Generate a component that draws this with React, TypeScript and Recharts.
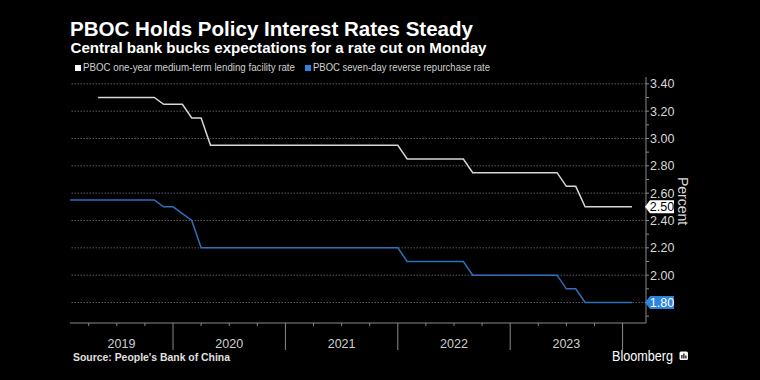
import React from 'react';
import { LineChart, Line, XAxis, YAxis, ReferenceLine } from 'recharts';

const months = [
  '2019-01', '2019-02', '2019-03', '2019-04', '2019-05', '2019-06', '2019-07', '2019-08', '2019-09', '2019-10', '2019-11', '2019-12',
  '2020-01', '2020-02', '2020-03', '2020-04', '2020-05', '2020-06', '2020-07', '2020-08', '2020-09', '2020-10', '2020-11', '2020-12',
  '2021-01', '2021-02', '2021-03', '2021-04', '2021-05', '2021-06', '2021-07', '2021-08', '2021-09', '2021-10', '2021-11', '2021-12',
  '2022-01', '2022-02', '2022-03', '2022-04', '2022-05', '2022-06', '2022-07', '2022-08', '2022-09', '2022-10', '2022-11', '2022-12',
  '2023-01', '2023-02', '2023-03', '2023-04', '2023-05', '2023-06', '2023-07', '2023-08', '2023-09', '2023-10', '2023-11', '2023-12',
  '2024-01',
];

// PBOC one-year medium-term lending facility rate
const mlfRate: (number | null)[] = [
  null, null, null, 3.30, 3.30, 3.30, 3.30, 3.30, 3.30, 3.30, 3.25, 3.25,
  3.25, 3.15, 3.15, 2.95, 2.95, 2.95, 2.95, 2.95, 2.95, 2.95, 2.95, 2.95,
  2.95, 2.95, 2.95, 2.95, 2.95, 2.95, 2.95, 2.95, 2.95, 2.95, 2.95, 2.95,
  2.85, 2.85, 2.85, 2.85, 2.85, 2.85, 2.85, 2.75, 2.75, 2.75, 2.75, 2.75,
  2.75, 2.75, 2.75, 2.75, 2.75, 2.65, 2.65, 2.50, 2.50, 2.50, 2.50, 2.50,
  2.50,
];

// PBOC seven-day reverse repurchase rate
const repoRate: number[] = [
  2.55, 2.55, 2.55, 2.55, 2.55, 2.55, 2.55, 2.55, 2.55, 2.55, 2.50, 2.50,
  2.45, 2.40, 2.20, 2.20, 2.20, 2.20, 2.20, 2.20, 2.20, 2.20, 2.20, 2.20,
  2.20, 2.20, 2.20, 2.20, 2.20, 2.20, 2.20, 2.20, 2.20, 2.20, 2.20, 2.20,
  2.10, 2.10, 2.10, 2.10, 2.10, 2.10, 2.10, 2.00, 2.00, 2.00, 2.00, 2.00,
  2.00, 2.00, 2.00, 2.00, 2.00, 1.90, 1.90, 1.80, 1.80, 1.80, 1.80, 1.80,
  1.80,
];

const yMajorTicks = [1.8, 2.0, 2.2, 2.4, 2.6, 2.8, 3.0, 3.2, 3.4];
const yMinorTicks = [1.7, 1.9, 2.1, 2.3, 2.5, 2.7, 2.9, 3.1, 3.3];
const yearLabels = ['2019', '2020', '2021', '2022', '2023'];

const seriesNames = [
  'PBOC one-year medium-term lending facility rate',
  'PBOC seven-day reverse repurchase rate',
];

const WHITE = '#d6d6d6';
const BLUE_LINE = '#2f6fbd';
const BLUE_BADGE = '#2c84dc';
const FONT = '"Liberation Sans", Arial, sans-serif';

const data = months.map((m, i) => ({ i, m, mlf: mlfRate[i], repo: repoRate[i] }));

const X_MIN = 0;
const X_MAX = months.length + 0.5;

// year boundaries (December points) and quarterly minor ticks
const majorX = months.map((m, i) => (m.endsWith('-12') ? i : -1)).filter((v) => v >= 0);
const minorX = months
  .map((m, i) => (m.endsWith('-03') || m.endsWith('-06') || m.endsWith('-09') ? i : -1))
  .filter((v) => v >= 0);
const labelPos = yearLabels.map((y) => {
  const first = months.findIndex((m) => m.startsWith(y));
  const last = months.map((m) => m.startsWith(y)).lastIndexOf(true);
  const start = Math.max(X_MIN, first - 1);
  return { pos: (start + last) / 2, label: y };
});
const xTicks = Array.from(new Set([...majorX, ...minorX, ...labelPos.map((l) => l.pos)])).sort((a, b) => a - b);

const lastMlf = mlfRate[mlfRate.length - 1] as number;
const lastRepo = repoRate[repoRate.length - 1];
const badges: Record<string, { fill: string; text: string }> = {
  [lastMlf.toFixed(2)]: { fill: '#ffffff', text: '#000000' },
  [lastRepo.toFixed(2)]: { fill: BLUE_BADGE, text: '#ffffff' },
};
const yTicks = Array.from(
  new Set([...yMajorTicks, ...yMinorTicks, lastMlf, lastRepo].map((v) => Number(v.toFixed(2))))
).sort((a, b) => a - b);

const XTick = (props: any) => {
  const { x, y, payload } = props;
  const v = payload.value;
  const lab = labelPos.find((l) => l.pos === v);
  return (
    <g>
      {majorX.includes(v) && <line x1={x} x2={x} y1={y} y2={y + 27} stroke="#8a8a8a" strokeWidth={1} />}
      {minorX.includes(v) && <line x1={x} x2={x} y1={y} y2={y + 3} stroke="#8a8a8a" strokeWidth={1} />}
      {lab && (
        <text x={x} y={y + 25} textAnchor="middle" fill="#cfcfcf" fontSize={12.5} fontFamily={FONT}>
          {lab.label}
        </text>
      )}
    </g>
  );
};

const YTick = (props: any) => {
  const { x, y, payload } = props;
  const v = Number(payload.value);
  const key = v.toFixed(2);
  const badge = badges[key];
  if (badge) {
    return (
      <g>
        <polygon
          points={`${x - 1},${y} ${x + 4},${y - 6.5} ${x + 28},${y - 6.5} ${x + 28},${y + 6.5} ${x + 4},${y + 6.5}`}
          fill={badge.fill}
        />
        <text
          x={x + 16}
          y={y}
          dy="0.35em"
          textAnchor="middle"
          fill={badge.text}
          fontSize={12.5}
          fontFamily={FONT}
        >
          {key}
        </text>
      </g>
    );
  }
  const isMajor = yMajorTicks.some((t) => Math.abs(t - v) < 1e-6);
  return (
    <g>
      <line x1={x} x2={x + 3} y1={y} y2={y} stroke="#8a8a8a" strokeWidth={1} />
      {isMajor && (
        <text x={x + 4} y={y} dy="0.35em" textAnchor="start" fill="#d8d8d8" fontSize={12.5} fontFamily={FONT}>
          {v.toFixed(2)}
        </text>
      )}
    </g>
  );
};

export default function App() {
  return (
    <div style={{ position: 'absolute', left: 0, top: 0, width: 760, height: 380, background: '#000', overflow: 'hidden' }}>
      <div style={{ position: 'absolute', left: 0, top: 0 }}>
        <LineChart width={760} height={380} data={data} margin={{ top: 77, right: 54, bottom: 27, left: 70 }}>
          {yMajorTicks.map((t) => (
            <ReferenceLine key={t} y={t} stroke="#5a5a5a" strokeDasharray="1.5 1.5" strokeWidth={1} />
          ))}
          <XAxis
            dataKey="i"
            type="number"
            domain={[X_MIN, X_MAX]}
            ticks={xTicks}
            interval={0}
            tick={(p: any) => <XTick {...p} />}
            tickLine={false}
            tickSize={0}
            tickMargin={0}
            axisLine={{ stroke: '#8a8a8a', strokeWidth: 1 }}
            height={30}
            allowDataOverflow
          />
          <YAxis
            orientation="right"
            type="number"
            domain={[1.65, 3.45]}
            ticks={yTicks}
            interval={0}
            tick={(p: any) => <YTick {...p} />}
            tickLine={false}
            tickSize={0}
            tickMargin={0}
            axisLine={{ stroke: '#8a8a8a', strokeWidth: 1 }}
            width={60}
            allowDataOverflow
          />
          <Line
            type="linear"
            dataKey="mlf"
            stroke={WHITE}
            strokeWidth={1.5}
            dot={false}
            isAnimationActive={false}
            connectNulls={false}
          />
          <Line
            type="linear"
            dataKey="repo"
            stroke={BLUE_LINE}
            strokeWidth={1.5}
            dot={false}
            isAnimationActive={false}
          />
        </LineChart>
      </div>
      <svg
        width={760}
        height={380}
        style={{ position: 'absolute', left: 0, top: 0, pointerEvents: 'none' }}
        fontFamily={FONT}
      >
        <text x={70} y={35.5} fill="#ffffff" fontSize={20} fontWeight="bold" textLength={403} lengthAdjust="spacingAndGlyphs">
          PBOC Holds Policy Interest Rates Steady
        </text>
        <text x={70.5} y={52.5} fill="#ffffff" fontSize={15} fontWeight="bold" textLength={416} lengthAdjust="spacingAndGlyphs">
          Central bank bucks expectations for a rate cut on Monday
        </text>
        <rect x={75} y={65} width={6} height={6} fill="#ffffff" />
        <text x={83} y={71} fill="#d0d0d0" fontSize={10.5} textLength={212} lengthAdjust="spacingAndGlyphs">
          {seriesNames[0]}
        </text>
        <rect x={305} y={65} width={6} height={6} fill={BLUE_BADGE} />
        <text x={313} y={71} fill="#d0d0d0" fontSize={10.5} textLength={177} lengthAdjust="spacingAndGlyphs">
          {seriesNames[1]}
        </text>
        <text
          x={683}
          y={201}
          fill="#d8d8d8"
          fontSize={14}
          textAnchor="middle"
          dominantBaseline="central"
          transform="rotate(90 683 201)"
        >
          Percent
        </text>
        <text x={73} y={361} fill="#e0e0e0" fontSize={10.5} fontWeight="bold" textLength={157} lengthAdjust="spacingAndGlyphs">
          Source: People's Bank of China
        </text>
        <text x={612} y={361} fill="#ffffff" fontSize={14} textLength={61} lengthAdjust="spacingAndGlyphs">
          Bloomberg
        </text>
        <rect x={679.5} y={351.5} width={8.5} height={8.5} rx={1.5} fill="#ffffff" />
        <rect x={681.3} y={355} width={1.2} height={3.5} fill="#000" />
        <rect x={683.3} y={353.5} width={1.2} height={5} fill="#000" />
        <rect x={685.3} y={355.5} width={1.2} height={3} fill="#000" />
      </svg>
    </div>
  );
}
